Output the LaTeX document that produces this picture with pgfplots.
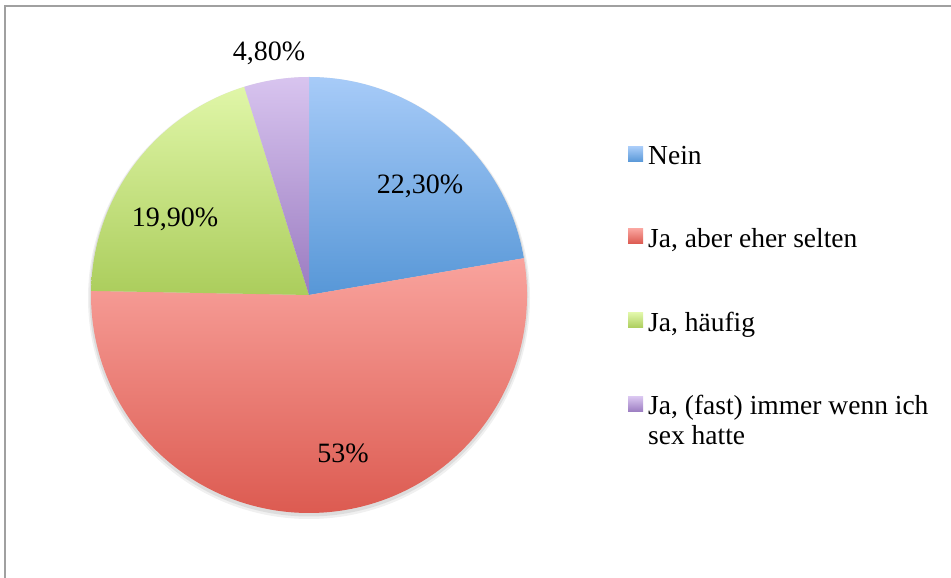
\documentclass[border=0pt]{standalone}
\usepackage{pgfplots}
\usepackage{pgfplotstable}
\pgfplotsset{compat=1.18}
\usepackage{fontspec}
\setmainfont{Liberation Serif}
\definecolor{blueT}{HTML}{A7CBF8}
\definecolor{blueB}{HTML}{5797D7}
\definecolor{redT}{HTML}{F9A39D}
\definecolor{redB}{HTML}{DB584E}
\definecolor{greenT}{HTML}{E0F6A8}
\definecolor{greenB}{HTML}{ABCD5C}
\definecolor{purpT}{HTML}{D8C4EF}
\definecolor{purpB}{HTML}{9A7BC0}
\definecolor{framegray}{HTML}{A0A0A0}

\pgfplotstableread{
idx value
0 22.3
1 53.0
2 19.9
3 4.8
}\piedata

\begin{document}
\begin{tikzpicture}
\pgfplotstablegetelem{0}{value}\of\piedata \let\vA\pgfplotsretval
\pgfplotstablegetelem{1}{value}\of\piedata \let\vB\pgfplotsretval
\pgfplotstablegetelem{2}{value}\of\piedata \let\vC\pgfplotsretval
\pgfplotstablegetelem{3}{value}\of\piedata \let\vD\pgfplotsretval
\pgfmathsetmacro{\aO}{90}
\pgfmathsetmacro{\aA}{\aO-3.6*\vA}
\pgfmathsetmacro{\aB}{\aA-3.6*\vB}
\pgfmathsetmacro{\aC}{\aB-3.6*\vC}
\pgfmathsetmacro{\aD}{\aC-3.6*\vD}
\def\R{218bp}
\begin{axis}[
  at={(0,0)}, anchor=origin,
  scale only axis, width=951bp, height=578bp,
  xmin=0, xmax=951, ymin=0, ymax=578,
  hide axis, clip=false,
]
% frame
\draw[framegray, line width=2bp] (axis cs:4.5,0) -- (axis cs:4.5,571.5) -- (axis cs:951,571.5);
% shadow
\fill[black, opacity=0.06] (axis cs:309,280) circle[radius=221bp];
\fill[black, opacity=0.08] (axis cs:309,281) circle[radius=219.5bp];
% slices
\shade[top color=blueT, bottom color=blueB] (axis cs:309,283) -- ++(\aO:\R) arc[start angle=\aO, end angle=\aA, radius=\R] -- cycle;
\shade[top color=redT, bottom color=redB] (axis cs:309,283) -- ++(\aA:\R) arc[start angle=\aA, end angle=\aB, radius=\R] -- cycle;
\shade[top color=greenT, bottom color=greenB] (axis cs:309,283) -- ++(\aB:\R) arc[start angle=\aB, end angle=\aC, radius=\R] -- cycle;
\shade[top color=purpT, bottom color=purpB] (axis cs:309,283) -- ++(\aC:\R) arc[start angle=\aC, end angle=\aD, radius=\R] -- cycle;
% data labels
\begin{scope}[every node/.style={font=\fontsize{28bp}{32bp}\selectfont, inner sep=0pt}]
\node at (axis cs:420,392) {22,30\%};
\node at (axis cs:343,125) {53\%};
\node at (axis cs:175,359) {19,90\%};
\node at (axis cs:269,525) {4,80\%};
\end{scope}
% legend
\shade[top color=blueT, bottom color=blueB] (axis cs:628,416) rectangle (axis cs:643,431);
\shade[top color=redT, bottom color=redB] (axis cs:628,334) rectangle (axis cs:643,349);
\shade[top color=greenT, bottom color=greenB] (axis cs:628,250) rectangle (axis cs:643,265);
\shade[top color=purpT, bottom color=purpB] (axis cs:628,166) rectangle (axis cs:643,181);
\begin{scope}[every node/.style={font=\fontsize{27.5bp}{31bp}\selectfont, inner sep=0pt, anchor=base west}]
\node at (axis cs:648,413) {Nein};
\node at (axis cs:648,330) {Ja, aber eher selten};
\node at (axis cs:648,246) {Ja, häufig};
\node at (axis cs:648,163) {Ja, (fast) immer wenn ich};
\node at (axis cs:648,133) {sex hatte};
\end{scope}
\end{axis}
\pgfresetboundingbox
\path[use as bounding box] (0,0) rectangle (951bp,578bp);
\end{tikzpicture}
\end{document}
